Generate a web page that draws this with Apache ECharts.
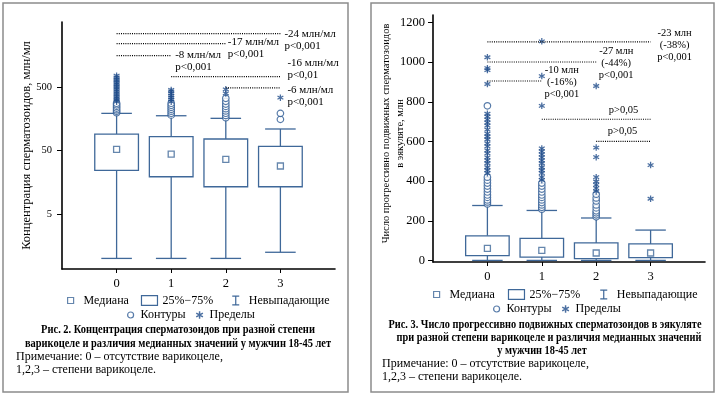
<!DOCTYPE html>
<html><head><meta charset="utf-8">
<script src="https://cdn.jsdelivr.net/npm/echarts@6/dist/echarts.min.js"></script>
<style>html,body{margin:0;padding:0;background:#fff}#c{width:720px;height:395px}</style>
</head><body><div id="c"></div>
<script>
// ---------- data ----------
const categories = ['0', '1', '2', '3'];

// Fig. 2: sperm concentration, млн/мл (log scale)
const concLow    = [1.0, 1.0, 1.0, 1.25];
const concQ1     = [24.5, 19.4, 13.5, 13.5];
const concMedian = [52.6, 44, 36.6, 28.7];
const concQ3     = [91.6, 83.2, 76.5, 58.7];
const concHigh   = [194, 178, 162, 110];
const concOutliers = [
  [199, 210, 222, 235, 250, 265, 280],
  [182, 195, 210, 225, 242, 260, 280],
  [166, 180, 195, 212, 230, 250, 272, 300, 335],
  [156, 194]
];
const concExtremes = [
  [297, 315, 335, 355, 380, 405, 430, 460, 490, 520, 555, 590, 630, 670, 715, 762],
  [297, 320, 345, 370, 400, 430, 455],
  [400, 465],
  [343]
];
const concTicks = [5, 50, 500];
const concAnnotPairs = [[0, 3], [0, 2], [0, 1], [1, 3], [2, 3]];
const concAnnotTexts = ['-24 млн/мл\np<0,001', '-17 млн/мл\np<0,001', '-8 млн/мл\np<0,001', '-16 млн/мл\np<0,01', '-6 млн/мл\np<0,001'];

// Fig. 3: progressively motile sperm count, млн
const motLow    = [0, 0, 0, 0];
const motQ1     = [24, 17, 9, 14];
const motMedian = [60.5, 50.4, 37.3, 37.3];
const motQ3     = [124, 111, 88, 83];
const motHigh   = [277, 252, 214, 153];
const motOutliers = [
  [285, 295, 305, 318, 330, 345, 360, 375, 390, 405, 420, 780],
  [258, 268, 280, 292, 305, 318, 330, 345, 360, 375, 390],
  [220, 230, 240, 250, 265, 280, 300, 315, 334],
  []
];
const motExtremes = [
  [440, 455, 470, 490, 505, 520, 540, 555, 575, 590, 610, 625, 640, 660, 680, 695, 710, 725, 740, 890, 960, 970, 1025],
  [405, 420, 440, 455, 470, 490, 505, 520, 535, 550, 565, 780, 930, 1105],
  [348, 365, 381, 398, 420, 521, 569, 880],
  [311, 481]
];
const motTicks = [0, 200, 400, 600, 800, 1000, 1200];
const motAnnotPairs = [[0, 3], [0, 2], [0, 1], [1, 3], [2, 3]];
const motAnnotTexts = ['-23 млн\n(-38%)\np<0,001', '-27 млн\n(-44%)\np<0,001', '-10 млн\n(-16%)\np<0,001', 'p>0,05', 'p>0,05'];

// ---------- styling / layout ----------
const C = '#3f6899';
const CO = '#2d5a93';
const CA = '#1e4b8a';
const SERIF = '"Liberation Serif", "Times New Roman", serif';
const lg = Math.log10;
const id = v => v;

function asteriskPath() {
  const cx = 5, cy = 5, L = 5, w = 0.95;
  let d = '';
  for (const ang of [90, 30, 150]) {
    const r = ang * Math.PI / 180, dx = Math.cos(r), dy = Math.sin(r), px = -dy, py = dx;
    const pts = [[cx + dx * L + px * w, cy + dy * L + py * w], [cx - dx * L + px * w, cy - dy * L + py * w],
                 [cx - dx * L - px * w, cy - dy * L - py * w], [cx + dx * L - px * w, cy + dy * L - py * w]];
    d += 'M' + pts.map(p => p[0].toFixed(2) + ' ' + p[1].toFixed(2)).join('L') + 'Z';
  }
  return d;
}
const AST = asteriskPath();

function boxSeries(g, q1, q3, tf) {
  return {
    name: '25%−75%', type: 'custom', xAxisIndex: g, yAxisIndex: g, z: 3, silent: true,
    itemStyle: { color: C },
    data: categories.map((c, i) => [i, tf(q1[i]), tf(q3[i])]),
    encode: { x: 0, y: [1, 2] },
    renderItem(params, api) {
      const x = api.value(0);
      const top = api.coord([x, api.value(2)]);
      const bot = api.coord([x, api.value(1)]);
      const w = api.size([1, 0])[0] * 0.8;
      return { type: 'rect', shape: { x: top[0] - w / 2, y: top[1], width: w, height: bot[1] - top[1] },
               style: { fill: '#fff', stroke: C, lineWidth: 1.3 } };
    }
  };
}
function whiskerSeries(g, low, q1, q3, high, tf) {
  return {
    name: 'Невыпадающие', type: 'custom', xAxisIndex: g, yAxisIndex: g, z: 2, silent: true,
    itemStyle: { color: C },
    data: categories.map((c, i) => [i, tf(low[i]), tf(q1[i]), tf(q3[i]), tf(high[i])]),
    encode: { x: 0, y: [1, 4] },
    renderItem(params, api) {
      const x = api.value(0);
      const lo = api.coord([x, api.value(1)]), a = api.coord([x, api.value(2)]);
      const b = api.coord([x, api.value(3)]), hi = api.coord([x, api.value(4)]);
      const cw = api.size([1, 0])[0] * 0.56 / 2;
      const st = { stroke: C, lineWidth: 1.3 };
      const ln = (x1, y1, x2, y2) => ({ type: 'line', shape: { x1, y1, x2, y2 }, style: st });
      return { type: 'group', children: [
        ln(b[0], b[1], hi[0], hi[1]), ln(hi[0] - cw, hi[1], hi[0] + cw, hi[1]),
        ln(a[0], a[1], lo[0], lo[1]), ln(lo[0] - cw, lo[1], lo[0] + cw, lo[1])
      ] };
    }
  };
}
function medianSeries(g, med, tf) {
  return { name: 'Медиана', type: 'scatter', xAxisIndex: g, yAxisIndex: g, z: 4, silent: true,
    symbol: 'rect', symbolSize: 6,
    itemStyle: { color: '#fff', borderColor: C, borderWidth: 1.3 },
    data: categories.map((c, i) => [i, tf(med[i])]) };
}
function flatten(groups, tf) {
  const out = [];
  groups.forEach((arr, i) => arr.forEach(v => out.push([i, tf(v)])));
  return out;
}
function outlierSeries(g, groups, tf) {
  return { name: 'Контуры', type: 'scatter', xAxisIndex: g, yAxisIndex: g, z: 4, silent: true,
    symbol: 'circle', symbolSize: 6.5,
    itemStyle: { color: '#fff', borderColor: CO, borderWidth: 1.2 },
    data: flatten(groups, tf) };
}
function extremeSeries(g, groups, tf) {
  return { name: 'Пределы', type: 'scatter', xAxisIndex: g, yAxisIndex: g, z: 5, silent: true,
    symbol: 'path://' + AST, symbolSize: 6.5,
    itemStyle: { color: CA },
    data: flatten(groups, tf) };
}
// annotation brackets: line between two groups at a given level, with the difference text
function annotSeries(g, pairs, levels, texts, offsets, fontSize) {
  return { type: 'custom', xAxisIndex: g, yAxisIndex: g, z: 6, silent: true,
    data: pairs.map((p, i) => [p[0], p[1], levels[i]]),
    encode: { x: [0, 1], y: 2 },
    renderItem(params, api) {
      const i = params.dataIndex, o = offsets[i];
      const a = api.coord([api.value(0), api.value(2)]);
      const b = api.coord([api.value(1), api.value(2)]);
      return { type: 'group', children: [
        { type: 'line', shape: { x1: a[0], y1: a[1], x2: b[0], y2: b[1] },
          style: { stroke: '#000', lineWidth: 1.2, lineDash: [1, 1.2] } },
        { type: 'text', x: b[0] + o[0], y: b[1] + o[1],
          style: { text: texts[i], fill: '#000', font: fontSize + 'px ' + SERIF, align: o[2],
                   verticalAlign: 'top', lineHeight: 12 } }
      ] };
    }
  };
}

function xAxisCfg(g) {
  return { type: 'value', gridIndex: g, min: -1, max: 4, interval: 1, splitLine: { show: false },
    axisLine: { show: true, onZero: false, lineStyle: { color: '#000', width: 1.6 } },
    axisTick: { show: true, customValues: [0, 1, 2, 3], length: 4, lineStyle: { color: '#000' } },
    axisLabel: { customValues: [0, 1, 2, 3], formatter: v => categories[v] ?? '', margin: 8,
                 color: '#000', fontFamily: SERIF, fontSize: 12.5 } };
}

const legendIcons = {
  'Медиана': 'path://M0 0M16 10M5 2H11V8H5Z',
  '25%−75%': 'path://M0.5 0.5H15.5V9.5H0.5Z',
  'Невыпадающие': 'path://M0 0M16 10M4.5 0.6H11.5M8 0.6V9.4M4.5 9.4H11.5',
  'Контуры': 'path://M0 0M10 10M8 5A3 3 0 1 1 2 5A3 3 0 1 1 8 5Z',
  'Пределы': 'path://M-1.5 -1.5M11.5 11.5' + AST
};
function legendItem(name) {
  const st = {
    'Медиана': { color: '#fff', borderColor: C, borderWidth: 1.2 },
    '25%−75%': { color: '#fff', borderColor: C, borderWidth: 1.2 },
    'Невыпадающие': { color: 'none', borderColor: C, borderWidth: 1.2 },
    'Контуры': { color: '#fff', borderColor: CO, borderWidth: 1.2 },
    'Пределы': { color: CA, borderWidth: 0 }
  }[name];
  return { name, icon: legendIcons[name], itemStyle: st };
}
function legendCfg(left, top, names, iw, gap) {
  return { left, top, padding: 0, orient: 'horizontal', itemWidth: iw, itemHeight: 10, itemGap: gap,
    selectedMode: false, data: names.map(legendItem),
    textStyle: { color: '#000', fontFamily: SERIF, fontSize: 12 } };
}
function caption(x, y, text, bold, align, sx) {
  return { type: 'text', silent: true, x, y, scaleX: sx,
    style: { text, font: (bold ? 'bold ' : '') + '12px ' + SERIF, fill: '#000', align, verticalAlign: 'middle' } };
}

const option = {
  animation: false,
  backgroundColor: '#fff',
  textStyle: { fontFamily: SERIF },
  grid: [
    { left: 62, top: 22, width: 273, height: 247, outerBoundsMode: 'none', containLabel: false },
    { left: 433, top: 15, width: 272, height: 247, outerBoundsMode: 'none', containLabel: false }
  ],
  xAxis: [xAxisCfg(0), xAxisCfg(1)],
  yAxis: [
    { type: 'value', gridIndex: 0, min: -0.167, max: 3.729, splitLine: { show: false },
      name: 'Концентрация сперматозоидов, млн/мл', nameLocation: 'middle', nameGap: 29, nameMoveOverlap: false,
      nameTextStyle: { color: '#000', fontFamily: SERIF, fontSize: 12.5 },
      axisLine: { show: true, onZero: false, lineStyle: { color: '#000', width: 1.6 } },
      axisTick: { show: true, customValues: concTicks.map(lg), length: 5, lineStyle: { color: '#000' } },
      axisLabel: { customValues: concTicks.map(lg), formatter: v => String(Math.round(Math.pow(10, v))),
                   margin: 10, color: '#000', fontFamily: SERIF, fontSize: 10.5 } },
    { type: 'value', gridIndex: 1, min: -8, max: 1238, splitLine: { show: false },
      name: 'Число прогрессивно подвижных сперматозоидов\nв эякуляте, млн', nameLocation: 'middle', nameGap: 26,
      nameMoveOverlap: false,
      nameTextStyle: { color: '#000', fontFamily: SERIF, fontSize: 10.5, lineHeight: 14, padding: [0, 0, 0, 10] },
      axisLine: { show: true, onZero: false, lineStyle: { color: '#000', width: 1.6 } },
      axisTick: { show: true, customValues: motTicks, length: 5, lineStyle: { color: '#000' } },
      axisLabel: { customValues: motTicks, formatter: v => String(v), margin: 8,
                   color: '#000', fontFamily: SERIF, fontSize: 12.5 } }
  ],
  legend: [
    legendCfg(62, 293, ['Медиана', '25%−75%', 'Невыпадающие'], 16, 12),
    legendCfg(125, 309, ['Контуры', 'Пределы'], 10, 9),
    legendCfg(428, 287, ['Медиана', '25%−75%', 'Невыпадающие'], 16, 13),
    legendCfg(491, 303, ['Контуры', 'Пределы'], 10, 9)
  ],
  graphic: [
    { type: 'rect', silent: true, shape: { x: 3, y: 3, width: 345, height: 389 },
      style: { fill: 'none', stroke: '#8c8c8c', lineWidth: 1.5 } },
    { type: 'rect', silent: true, shape: { x: 371, y: 3, width: 343, height: 389 },
      style: { fill: 'none', stroke: '#8c8c8c', lineWidth: 1.5 } },
    caption(178, 330, 'Рис. 2. Концентрация сперматозоидов при разной степени', true, 'center', 0.87),
    caption(178, 344, 'варикоцеле и различия медианных значений у мужчин 18-45 лет', true, 'center', 0.87),
    caption(16, 357, 'Примечание: 0 – отсутствие варикоцеле,', false, 'left', 1),
    caption(16, 370, '1,2,3 – степени варикоцеле.', false, 'left', 1),
    caption(545, 325, 'Рис. 3. Число прогрессивно подвижных сперматозоидов в эякуляте', true, 'center', 0.86),
    caption(549, 338, 'при разной степени варикоцеле и различия медианных значений', true, 'center', 0.86),
    caption(542, 351, 'у мужчин 18-45 лет', true, 'center', 0.86),
    caption(382, 364, 'Примечание: 0 – отсутствие варикоцеле,', false, 'left', 1),
    caption(382, 377, '1,2,3 – степени варикоцеле.', false, 'left', 1)
  ],
  series: [
    whiskerSeries(0, concLow, concQ1, concQ3, concHigh, lg),
    boxSeries(0, concQ1, concQ3, lg),
    medianSeries(0, concMedian, lg),
    outlierSeries(0, concOutliers, lg),
    extremeSeries(0, concExtremes, lg),
    annotSeries(0, concAnnotPairs, [3500, 2440, 1575, 735, 488].map(lg), concAnnotTexts,
      [[4, -6, 'left'], [2, -8, 'left'], [4, -7, 'left'], [7, -19.5, 'left'], [7, -4, 'left']], 11),
    whiskerSeries(1, motLow, motQ1, motQ3, motHigh, id),
    boxSeries(1, motQ1, motQ3, id),
    medianSeries(1, motMedian, id),
    outlierSeries(1, motOutliers, id),
    extremeSeries(1, motExtremes, id),
    annotSeries(1, motAnnotPairs, [1102, 1001, 905, 712, 600], motAnnotTexts,
      [[24, -14.7, 'center'], [20, -17, 'center'], [20, -16.3, 'center'], [-27, -14.6, 'center'], [-28, -15.8, 'center']], 10.5)
  ]
};
const chart = echarts.init(document.getElementById('c'), null, { renderer: 'canvas' });
chart.setOption(option);
</script>
</body></html>
